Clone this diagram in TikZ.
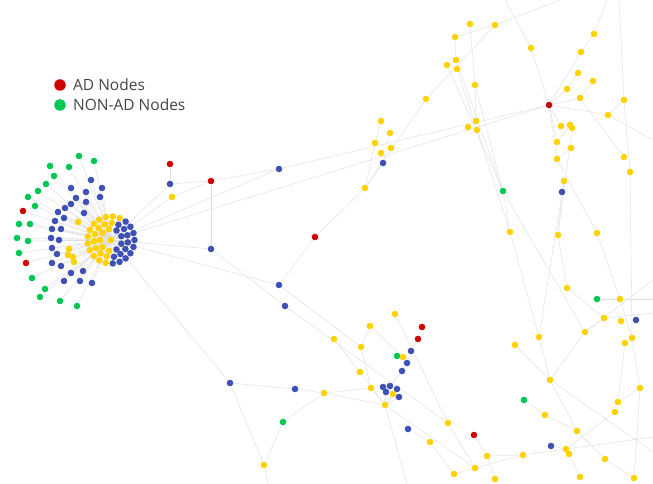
\documentclass[tikz,border=0pt]{standalone}
\usepackage{fontspec}
\setmainfont{Open Sans}
\usetikzlibrary{positioning}

\definecolor{adred}{HTML}{D10000}
\definecolor{nonadgreen}{HTML}{00C853}
\definecolor{nodeblue}{HTML}{3F51B5}
\definecolor{nodeyellow}{HTML}{FFD200}
\definecolor{linkgray}{HTML}{DEDEDE}
\definecolor{legendtext}{HTML}{444444}

\pgfdeclarelayer{background}
\pgfsetlayers{background,main}

\tikzset{
  dot/.style={circle, inner sep=0pt, minimum size=6.6pt},
  ad/.style={dot, fill=adred},
  nonad/.style={dot, fill=nonadgreen},
  blu/.style={dot, fill=nodeblue},
  yel/.style={dot, fill=nodeyellow},
  link/.style={draw=linkgray, line width=0.45pt},
  legdot/.style={circle, inner sep=0pt, minimum size=11.5pt},
  legtext/.style={inner sep=0pt, text=legendtext, font=\fontsize{15.5}{18}\selectfont}
}

\begin{document}
\begin{tikzpicture}[x=1pt, y=-1pt]
  \useasboundingbox (0,0) rectangle (653,484);

  % Legend
  \node[legdot, fill=adred] (legad) at (60,85) {};
  \node[legtext, anchor=west, right=7pt of legad] (legadtxt) {AD Nodes};
  \node[legdot, fill=nonadgreen] (legna) at (60,105) {};
  \node[legtext, anchor=west, right=7pt of legna] (legnatxt) {NON-AD Nodes};

  % Hub and its rings
  \node[yel] (hub) at (111,240) {};
  \foreach \r/\n/\s [count=\j] in {11/9/20, 17/15/8, 23.5/21/0}{
    \foreach \k in {1,...,\n}{
      \pgfmathsetmacro\ang{mod(\s+360*\k/\n,360)}
      \pgfmathtruncatemacro\isb{(\ang>295 || \ang<97) ? 1 : 0}
      \ifnum\isb=1 \def\col{blu}\else\def\col{yel}\fi
      \node[\col] (c\j-\k) at ({111+\r*cos(\ang)},{240+\r*sin(\ang)}) {};
    }
  }

  % Left fan
  \foreach \x/\y [count=\i] in {79/156, 94/161, 50/166, 69/167, 54/176, 46/184, 38/191,
      28/197, 35/206, 30/224, 19/224, 17/238, 28/241, 19/253, 32/278, 45/289, 40/297,
      60/301, 77/306}
    \node[nonad] (fg\i) at (\x,\y) {};
  \foreach \x/\y [count=\i] in {23/211, 26/263}
    \node[ad] (fr\i) at (\x,\y) {};
  \foreach \x/\y [count=\i] in {91/180, 102/188, 71/188, 86/192, 76/198, 100/197, 86/202,
      71/204, 65/208, 58/212, 84/213, 64/218, 55/221, 52/229, 61/229, 51/238, 59/240,
      52/248, 57/254, 52/263, 61/266, 71/273, 83/271, 64/281, 80/281, 92/283}
    \node[blu] (fb\i) at (\x,\y) {};
  \foreach \x/\y [count=\i] in {78/222, 69/249, 68/255, 73/257, 74/262}
    \node[yel] (fy\i) at (\x,\y) {};

  % Near the hub
  \node[ad] (ad1) at (170,164) {};
  \node[blu] (bl1) at (170,184) {};
  \node[yel] (ye1) at (172,197) {};
  \node[ad] (ad2) at (211,181) {};
  \node[blu] (bl2) at (279,169) {};
  \node[blu] (bl3) at (211,249) {};
  \node[ad] (ad3) at (315,237) {};
  \node[blu] (bl4) at (279,285) {};
  \node[blu] (bl5) at (285,306) {};
  \node[blu] (bl6) at (230,383) {};
  \node[blu] (bl7) at (295,389) {};
  \node[nonad] (na1) at (283,422) {};
  \node[yel] (ye2) at (264,465) {};

  % Top middle
  \node[yel] (ye3) at (365,188) {};
  \node[blu] (bl8) at (383,163) {};
  \node[yel] (ye4) at (381,121) {};
  \node[yel] (ye5) at (390,133) {};
  \node[yel] (ye6) at (375,143) {};
  \node[yel] (ye7) at (391,148) {};
  \node[yel] (ye8) at (381,153) {};
  \node[yel] (ye9) at (426,99) {};
  \node[yel] (ye10) at (470,24) {};
  \node[yel] (ye11) at (495,25) {};
  \node[yel] (ye12) at (455,37) {};
  \node[yel] (ye13) at (456,60) {};
  \node[yel] (ye14) at (447,65) {};
  \node[yel] (ye15) at (457,69) {};
  \node[yel] (ye16) at (475,85) {};
  \node[yel] (ye17) at (476,121) {};
  \node[yel] (ye18) at (468,127) {};
  \node[yel] (ye19) at (477,130) {};

  % Top right
  \node[ad] (ad4) at (549,105) {};
  \node[yel] (ye20) at (531,48) {};
  \node[yel] (ye21) at (594,34) {};
  \node[yel] (ye22) at (581,52) {};
  \node[yel] (ye23) at (578,73) {};
  \node[yel] (ye24) at (593,81) {};
  \node[yel] (ye25) at (567,89) {};
  \node[yel] (ye26) at (580,98) {};
  \node[yel] (ye27) at (624,100) {};
  \node[yel] (ye28) at (608,115) {};
  \node[yel] (ye29) at (561,126) {};
  \node[yel] (ye30) at (570,125) {};
  \node[yel] (ye31) at (572,128) {};
  \node[yel] (ye32) at (557,142) {};
  \node[yel] (ye33) at (571,148) {};
  \node[yel] (ye34) at (557,159) {};
  \node[yel] (ye35) at (624,157) {};
  \node[yel] (ye36) at (630,172) {};
  \node[yel] (ye37) at (564,181) {};
  \node[nonad] (na2) at (503,191) {};
  \node[blu] (bl9) at (562,192) {};

  % Right middle
  \node[yel] (ye38) at (510,232) {};
  \node[yel] (ye39) at (558,235) {};
  \node[yel] (ye40) at (597,233) {};
  \node[yel] (ye41) at (567,288) {};
  \node[nonad] (na3) at (597,299) {};
  \node[yel] (ye42) at (620,299) {};
  \node[yel] (ye43) at (604,318) {};
  \node[yel] (ye44) at (621,321) {};
  \node[blu] (bl10) at (636,320) {};
  \node[yel] (ye45) at (585,332) {};
  \node[yel] (ye46) at (539,337) {};
  \node[yel] (ye47) at (632,338) {};
  \node[yel] (ye48) at (515,345) {};
  \node[yel] (ye49) at (625,343) {};

  % Right bottom
  \node[yel] (ye50) at (550,380) {};
  \node[yel] (ye51) at (640,388) {};
  \node[nonad] (na4) at (524,400) {};
  \node[yel] (ye52) at (618,402) {};
  \node[yel] (ye53) at (545,415) {};
  \node[yel] (ye54) at (615,412) {};
  \node[yel] (ye55) at (577,431) {};
  \node[blu] (bl11) at (551,446) {};
  \node[yel] (ye56) at (566,449) {};
  \node[yel] (ye57) at (569,454) {};
  \node[yel] (ye58) at (487,456) {};
  \node[yel] (ye59) at (523,455) {};
  \node[yel] (ye60) at (605,459) {};
  \node[yel] (ye61) at (580,477) {};
  \node[yel] (ye62) at (634,478) {};
  \node[yel] (ye63) at (495,479) {};

  % Bottom middle
  \node[yel] (ye64) at (395,314) {};
  \node[yel] (ye65) at (370,326) {};
  \node[ad] (ad5) at (422,327) {};
  \node[ad] (ad6) at (418,339) {};
  \node[yel] (ye66) at (334,339) {};
  \node[yel] (ye67) at (361,347) {};
  \node[blu] (bl12) at (411,351) {};
  \node[nonad] (na5) at (397,356) {};
  \node[yel] (ye68) at (403,357) {};
  \node[blu] (bl13) at (407,363) {};
  \node[blu] (bl14) at (402,371) {};
  \node[yel] (ye69) at (360,372) {};
  \node[yel] (ye70) at (371,388) {};
  \node[blu] (bl15) at (383,387) {};
  \node[blu] (bl16) at (390,386) {};
  \node[blu] (bl17) at (386,392) {};
  \node[blu] (bl18) at (397,389) {};
  \node[yel] (ye71) at (393,394) {};
  \node[blu] (bl19) at (399,397) {};
  \node[yel] (ye72) at (385,405) {};
  \node[yel] (ye73) at (324,393) {};
  \node[yel] (ye74) at (448,423) {};
  \node[blu] (bl20) at (408,429) {};
  \node[yel] (ye75) at (430,442) {};
  \node[ad] (ad7) at (474,435) {};
  \node[yel] (ye76) at (475,468) {};
  \node[yel] (ye77) at (454,474) {};

  % loose ends at the border
  \coordinate (e1) at (505,0);
  \coordinate (e2) at (560,0);
  \coordinate (e3) at (607,0);
  \coordinate (e4) at (619,0);
  \coordinate (e5) at (653,140);
  \coordinate (e6) at (653,299);
  \coordinate (e7) at (653,313);
  \coordinate (e8) at (653,280);
  \coordinate (e9) at (653,437);
  \coordinate (e10) at (268,484);
  \coordinate (e11) at (407,484);
  \coordinate (e12) at (653,452);

  \begin{pgfonlayer}{background}
    % star around the hub
    \foreach \j/\n in {1/9, 2/15, 3/21}
      \foreach \k in {1,...,\n}
        \draw[link] (hub) -- (c\j-\k);
    \foreach \i in {1,...,19} \draw[link] (hub) -- (fg\i);
    \foreach \i in {1,2} \draw[link] (hub) -- (fr\i);
    \foreach \i in {1,...,26} \draw[link] (hub) -- (fb\i);
    \foreach \i in {1,...,5} \draw[link] (hub) -- (fy\i);

    % the rest of the graph
    \foreach \a/\b in {hub/ye1, hub/bl1, ad1/bl1, bl1/ad2, ye1/ad2, ad2/bl2, ad2/bl3,
        hub/bl3, hub/bl2, bl2/ad4, hub/ad4, hub/bl4, bl4/ad3, bl3/bl5, hub/bl6,
        ad3/ye3, ye3/ye9, ye9/ye11, ye3/bl8, bl8/ye5, ye3/ye6, ye6/ye4,
        bl6/bl7, bl7/ye73, na1/ye73, na1/ye2, bl6/ye2, ye2/e10,
        ye10/ye16, ye16/na2, ye16/ye17, ye12/ye11, ye12/ye13, ye13/na2, ye14/na2, ye15/ye38,
        ye11/e2, ye20/e1, ye20/ad4,
        ad4/ye22, ye22/ye21, ye21/e3, ad4/ye25, ye25/ye23, ad4/ye26, ye26/ye24,
        ad4/ye28, ye28/ye27, ye28/e5, ad4/ye32, ad4/ye34, ad4/ye29, ye30/ye32, ye33/ye34,
        ye26/ye35, e4/ye27, ye27/ye36, ye36/ye47, ye37/bl9, bl9/ye39, ye39/ye41,
        ye41/ye43, ye43/ye45, ye45/na2, ye43/e7, ye45/e8, ye40/ye34, ye40/ye42,
        na3/ye42, ye42/e6, ye42/ye47, na2/ye38, ye38/ye46, ye46/ye50, ye46/ye37,
        ye48/ye50, ye50/ye45, ye50/ye55, ye55/ye60, na4/ye53, ye53/ye55, ye52/ye51,
        ye49/ye52, ye47/ye51, bl11/ye56, ye54/ye56, ye58/ye59, ye59/ye56, ye56/e9,
        ye57/ye61, ye60/ye62, ye62/ye51, ye63/ye58, ye31/ye39, ye50/e12,
        ye65/ye67, ye67/ye70, ye66/ye69, ye69/ye72, ye70/ye72, ye73/ye70, ye73/ye72,
        ad5/ad6, ad6/bl12, bl12/bl13, bl13/bl14, bl14/bl16, na5/ye68, ye72/bl15,
        ye72/bl17, ye72/bl18, ye72/ye71, ye72/bl19, ye72/e11, ye72/ye76, bl20/ye75,
        ad7/ye58, ye74/ye76, ye77/ye76, ye64/ye74, ye65/ye68, bl4/ye67, bl5/ye74,
        ye76/ye59, ye75/ye77}
      \draw[link] (\a) -- (\b);
  \end{pgfonlayer}
\end{tikzpicture}
\end{document}
